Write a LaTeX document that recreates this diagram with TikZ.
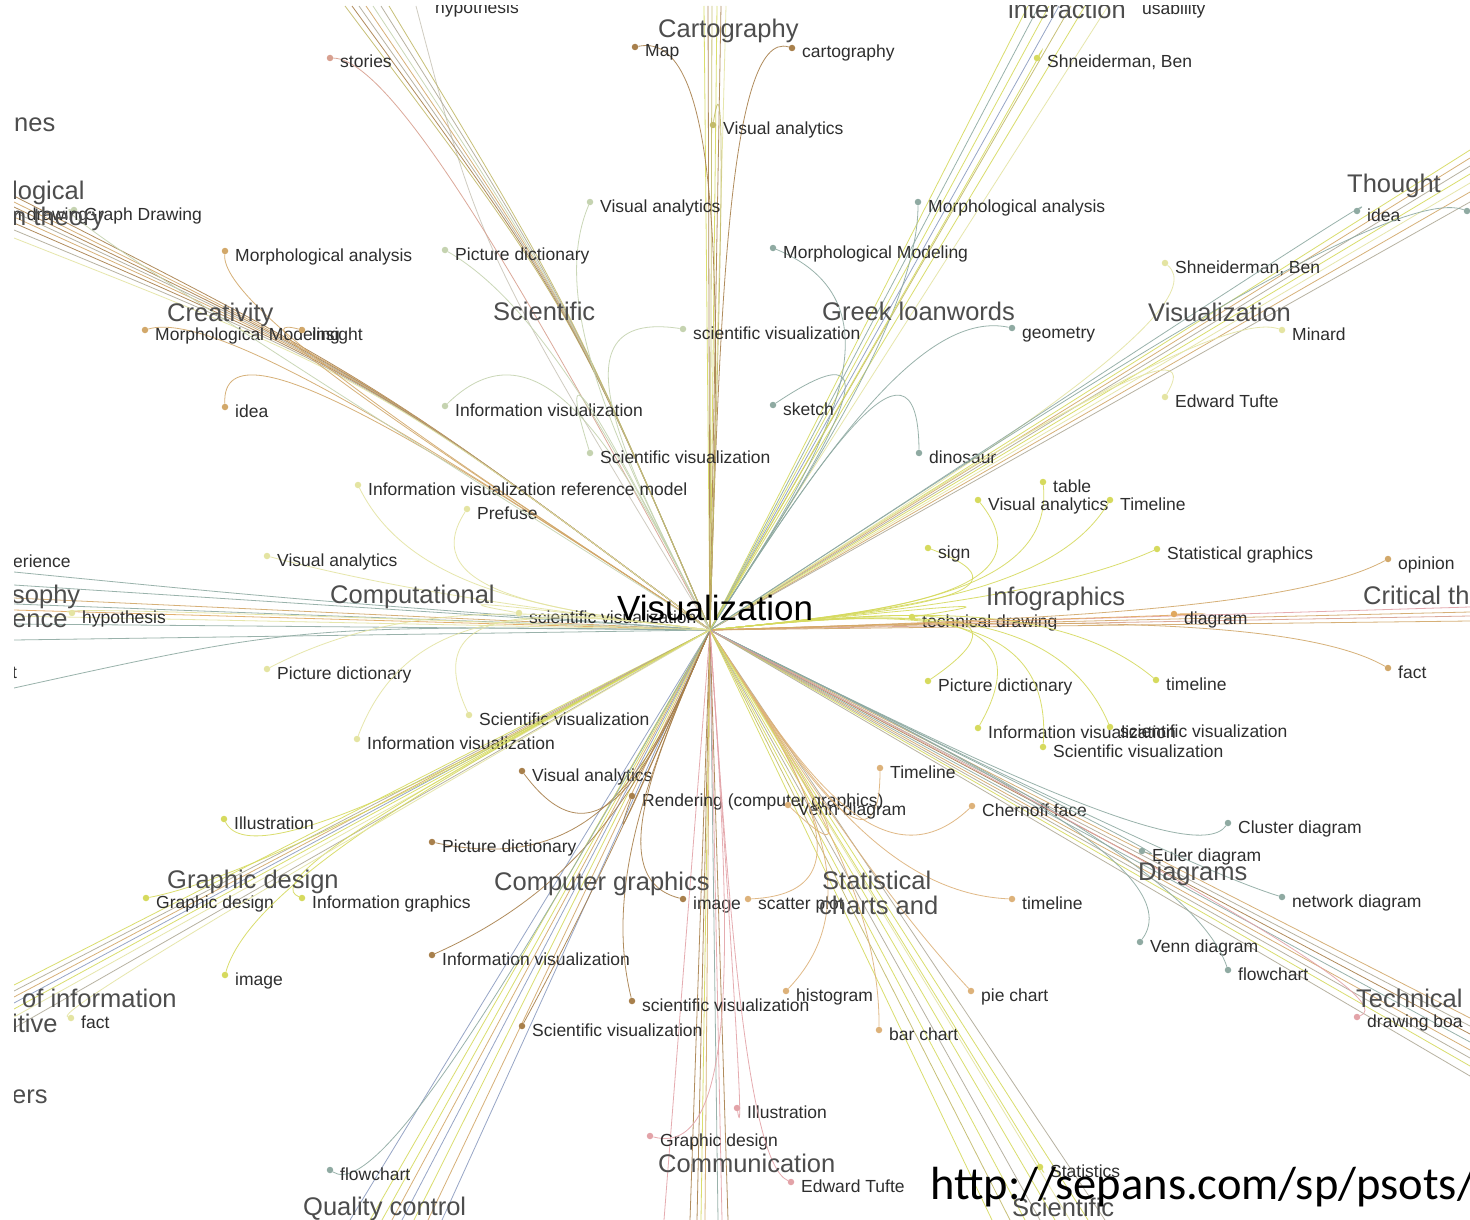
\documentclass[tikz,border=0pt]{standalone}
\usepackage{fontspec}
\setmainfont{Liberation Sans}
\newfontfamily\urlfont{Carlito}
\usetikzlibrary{calc}

\definecolor{cBrown}{HTML}{A8804C}
\definecolor{cTan}{HTML}{D2A86A}
\definecolor{cStat}{HTML}{DDB27A}
\definecolor{cSage}{HTML}{C5D3B0}
\definecolor{cTeal}{HTML}{8FAAA2}
\definecolor{cPaleY}{HTML}{E4E4A2}
\definecolor{cYel}{HTML}{D6DA5E}
\definecolor{cPink}{HTML}{E3A3A8}
\definecolor{cOlive}{HTML}{C2BA6A}
\definecolor{cSalmon}{HTML}{D8A090}
\definecolor{cGrey}{HTML}{B0AA98}
\definecolor{cBlue}{HTML}{8C9CC0}
\definecolor{cOrange}{HTML}{E0A860}
\definecolor{hubgrey}{HTML}{4D4D4D}
\definecolor{leafgrey}{HTML}{2E2E2E}

\tikzset{
  spoke/.style={line width=0.8pt, opacity=0.9},
  edge/.style={line width=0.8pt, opacity=0.9},
  dot/.style={circle, inner sep=0pt, minimum size=6.5pt, draw=none},
  leaftext/.style={font=\fontsize{17.5}{20}\selectfont, text=leafgrey, inner sep=0pt, anchor=base west},
  hub/.style={font=\fontsize{25.5}{30}\selectfont, text=hubgrey, inner sep=0pt, anchor=base west},
}

% #1 name, #2 x, #3 y, #4 colour, #5 cluster anchor, #6 label
\newcommand\leaf[6]{%
  \node[dot, fill=#4] (#1) at (#2,#3) {};
  \draw[edge, draw=#4] (ctr) .. controls ($(ctr)!0.5!(#5)$) and (#5.center) .. (#1);
  \node[leaftext] (#1-t) at ($(#1)+(10,10)$) {#6};
}

\begin{document}
\begin{tikzpicture}[x=1pt,y=-1pt]
\fill[white] (0,0) rectangle (1470,1220);
\useasboundingbox (0,0) rectangle (1470,1220);

\coordinate (ctr) at (710,630);

% cluster anchors
\coordinate (aCart) at (728,28);
\coordinate (aSci) at (545,308);
\coordinate (aGreek) at (918,308);
\coordinate (aVisR) at (1218,308);
\coordinate (aCreat) at (220,308);
\coordinate (aComp) at (412,594);
\coordinate (aInfo) at (1054,595);
\coordinate (aCrit) at (1290,612);
\coordinate (aCG) at (602,879);
\coordinate (aGD) at (253,878);
\coordinate (aStat) at (880,893);
\coordinate (aDiag) at (1194,870);
\coordinate (aTech) at (1410,997);
\coordinate (aComm) at (746,1162);
\coordinate (aQC) at (383,1205);
\coordinate (aThought) at (1392,183);
\coordinate (aInter) at (1068,8);
\coordinate (aTL) at (400,60);
\coordinate (aPhilo) at (40,606);
\coordinate (aCogn) at (50,1012);
\coordinate (aLeft) at (40,205);
\coordinate (aStSci) at (1062,1200);

\begin{scope}
\clip (14,6) rectangle (1470,1220);

% straight spokes to clusters beyond the frame
\foreach \x/\y/\c [count=\i] in {
  704/6/cYel, 708/6/cBrown, 712/6/cOlive, 717/6/cYel, 721/6/cBrown, 726/6/cPaleY,
  14/585/cTeal, 14/598/cTan, 14/604/cTeal, 14/610/cOrange, 14/616/cPaleY, 14/624/cTeal, 14/640/cTeal,
  14/985/cYel, 14/991/cGrey, 14/997/cTan, 14/1003/cBlue, 14/1009/cYel, 14/1017/cPaleY, 14/1028/cGrey,
  350/1220/cBlue, 370/1220/cYel, 382/1220/cYel, 392/1220/cTan, 402/1220/cBlue, 414/1220/cYel, 428/1220/cTan, 442/1220/cBlue,
  664/1220/cPink, 690/1220/cBrown, 697/1220/cBrown, 701/1220/cYel, 705/1220/cTan, 718/1220/cTeal, 722/1220/cPink, 728/1220/cBrown,
  992/1220/cYel, 1010/1220/cOlive, 1025/1220/cYel, 1040/1220/cGrey, 1055/1220/cYel, 1070/1220/cPaleY, 1088/1220/cYel, 1105/1220/cGrey,
  1470/1018/cTan, 1470/1026/cGrey, 1470/1034/cBrown, 1470/1042/cTeal, 1470/1050/cTan, 1470/1058/cGrey, 1470/1066/cYel, 1470/1076/cGrey,
  1470/607/cPink, 1470/612/cTan, 1470/616/cSalmon, 1470/621/cTan,
  1470/150/cYel, 1470/158/cTan, 1470/166/cGrey, 1470/174/cYel, 1470/183/cPaleY, 1470/192/cTan, 1470/202/cGrey,
  1028/6/cYel, 1039/6/cTeal, 1049/6/cYel, 1059/6/cBlue, 1071/6/cOlive, 1085/6/cYel, 1108/6/cPaleY}{
  \coordinate (sp\i) at (\x,\y);
  \draw[spoke,\c] (ctr) -- (sp\i);
}

% bowed bundle to the upper left
\foreach \y/\c [count=\i] in {196/cBrown, 202/cTan, 207/cBrown, 212/cGrey, 217/cTan, 223/cBrown, 230/cGrey, 238/cPaleY}{
  \coordinate (lw\i) at (14,\y);
  \draw[spoke,\c] (ctr) .. controls (375,380) .. (lw\i);
}
% bowed bundle to the top left
\foreach \x/\c [count=\i] in {345/cOlive, 352/cBrown, 359/cGrey, 366/cTan, 373/cSage, 381/cGrey, 389/cOlive}{
  \coordinate (tw\i) at (\x,6);
  \draw[spoke,\c] (ctr) .. controls (570,305) .. (tw\i);
}
% single curved strands
\coordinate (hypo) at (416,6);
\draw[spoke,cGrey,opacity=0.6] (ctr) .. controls (480,250) .. (hypo);
\coordinate (eri) at (14,572);
\draw[spoke,cTeal] (ctr) .. controls (300,600) .. (eri);
\coordinate (tee) at (14,688);
\draw[spoke,cTeal] (ctr) .. controls (300,625) .. (tee);

% Cartography
\leaf{map}{635}{47}{cBrown}{aCart}{Map}
\leaf{carto}{792}{48}{cBrown}{aCart}{cartography}
\leaf{cva}{713}{125}{cOlive}{aCart}{Visual analytics}
% top left
\leaf{stories}{330}{58}{cSalmon}{aTL}{stories}
% Scientific
\leaf{sva}{590}{202}{cSage}{aSci}{Visual analytics}
\leaf{spd}{445}{250}{cSage}{aSci}{Picture dictionary}
\leaf{ssv}{683}{329}{cSage}{aSci}{scientific visualization}
\leaf{siv}{445}{406}{cSage}{aSci}{Information visualization}
\leaf{sSv}{590}{453}{cSage}{aSci}{Scientific visualization}
% Greek loanwords
\leaf{gma}{918}{202}{cTeal}{aGreek}{Morphological analysis}
\leaf{gmm}{773}{248}{cTeal}{aGreek}{Morphological Modeling}
\leaf{ggeo}{1012}{328}{cTeal}{aGreek}{geometry}
\leaf{gsk}{773}{405}{cTeal}{aGreek}{sketch}
\leaf{gdino}{919}{453}{cTeal}{aGreek}{dinosaur}
% Visualization
\leaf{vshn}{1165}{263}{cPaleY}{aVisR}{Shneiderman, Ben}
\leaf{vmin}{1282}{330}{cPaleY}{aVisR}{Minard}
\leaf{vtuf}{1165}{397}{cPaleY}{aVisR}{Edward Tufte}
% Creativity
\leaf{rma}{225}{251}{cTan}{aCreat}{Morphological analysis}
\leaf{rmm}{145}{330}{cTan}{aCreat}{Morphological Modeling}
\leaf{rins}{302}{330}{cTan}{aCreat}{insight}
\leaf{ridea}{225}{407}{cTan}{aCreat}{idea}
% Computational
\leaf{pirm}{358}{485}{cPaleY}{aComp}{Information visualization reference model}
\leaf{ppre}{467}{509}{cPaleY}{aComp}{Prefuse}
\leaf{pva}{267}{556}{cPaleY}{aComp}{Visual analytics}
\leaf{psv}{519}{613}{cPaleY}{aComp}{scientific visualization}
\leaf{ppd}{267}{669}{cPaleY}{aComp}{Picture dictionary}
\leaf{pSv}{469}{715}{cPaleY}{aComp}{Scientific visualization}
\leaf{piv}{357}{739}{cPaleY}{aComp}{Information visualization}
% Infographics
\leaf{itab}{1043}{482}{cYel}{aInfo}{table}
\leaf{iva}{978}{500}{cYel}{aInfo}{Visual analytics}
\leaf{itl}{1110}{500}{cYel}{aInfo}{Timeline}
\leaf{isign}{928}{548}{cYel}{aInfo}{sign}
\leaf{isg}{1157}{549}{cYel}{aInfo}{Statistical graphics}
\leaf{itd}{912}{617}{cYel}{aInfo}{technical drawing}
\leaf{ipd}{928}{681}{cYel}{aInfo}{Picture dictionary}
\leaf{itl2}{1156}{680}{cYel}{aInfo}{timeline}
\leaf{iiv}{978}{728}{cYel}{aInfo}{Information visualization}
\leaf{isv}{1110}{727}{cYel}{aInfo}{scientific visualization}
\leaf{iSv}{1043}{747}{cYel}{aInfo}{Scientific visualization}
% Critical thinking
\leaf{kop}{1388}{559}{cTan}{aCrit}{opinion}
\leaf{kdia}{1174}{614}{cOrange}{aCrit}{diagram}
\leaf{kfact}{1388}{668}{cTan}{aCrit}{fact}
% Computer graphics
\leaf{gva}{522}{771}{cBrown}{aCG}{Visual analytics}
\leaf{gren}{632}{796}{cBrown}{aCG}{Rendering (computer graphics)}
\leaf{gpd}{432}{842}{cBrown}{aCG}{Picture dictionary}
\leaf{gimg}{683}{899}{cBrown}{aCG}{image}
\leaf{giv}{432}{955}{cBrown}{aCG}{Information visualization}
\leaf{gsv}{632}{1001}{cBrown}{aCG}{scientific visualization}
\leaf{gSv}{522}{1026}{cBrown}{aCG}{Scientific visualization}
% Graphic design
\leaf{dill}{224}{819}{cYel}{aGD}{Illustration}
\leaf{dgd}{146}{898}{cYel}{aGD}{Graphic design}
\leaf{dig}{302}{898}{cYel}{aGD}{Information graphics}
\leaf{dimg}{225}{975}{cYel}{aGD}{image}
% Statistical charts and graphs
\leaf{tTl}{880}{768}{cStat}{aStat}{Timeline}
\leaf{tven}{788}{805}{cStat}{aStat}{Venn diagram}
\leaf{tche}{972}{806}{cStat}{aStat}{Chernoff face}
\leaf{tsca}{748}{899}{cStat}{aStat}{scatter plot}
\leaf{this}{786}{991}{cStat}{aStat}{histogram}
\leaf{tbar}{879}{1030}{cStat}{aStat}{bar chart}
\leaf{tpie}{971}{991}{cStat}{aStat}{pie chart}
\leaf{ttl}{1012}{899}{cStat}{aStat}{timeline}
% Diagrams
\leaf{xclu}{1228}{823}{cTeal}{aDiag}{Cluster diagram}
\leaf{xeul}{1142}{851}{cTeal}{aDiag}{Euler diagram}
\leaf{xnet}{1282}{897}{cTeal}{aDiag}{network diagram}
\leaf{xven}{1140}{942}{cTeal}{aDiag}{Venn diagram}
\leaf{xflo}{1228}{970}{cTeal}{aDiag}{flowchart}
% Technical
\leaf{tdb}{1357}{1017}{cPink}{aTech}{drawing boa}
% Communication
\leaf{mill}{737}{1108}{cPink}{aComm}{Illustration}
\leaf{mgd}{650}{1136}{cPink}{aComm}{Graphic design}
\leaf{mtuf}{791}{1182}{cPink}{aComm}{Edward Tufte}
% Quality control
\leaf{qflo}{330}{1170}{cTeal}{aQC}{flowchart}
% Thought
\leaf{hidea}{1357}{211}{cTeal}{aThought}{idea}
\leaf{hedge}{1467}{211}{cTeal}{aThought}{}
% Interaction
\leaf{ishn}{1037}{58}{cYel}{aInter}{Shneiderman, Ben}
% edge clusters
\leaf{phyp}{72}{613}{cPaleY}{aPhilo}{hypothesis}
\leaf{ofact}{71}{1018}{cPaleY}{aCogn}{fact}
\leaf{lgd}{74}{210}{cSage}{aLeft}{Graph Drawing}
\leaf{sstat}{1040}{1167}{cYel}{aStSci}{Statistics}

% labels without a dot in the frame
\node[leaftext] (thypo) at (435,14) {hypothesis};
\node[leaftext] (tusab) at (1142,15) {usability};
\node[leaftext] (teri) at (13,567) {erience};
\node[leaftext] (tt) at (12,678) {t};
\node[leaftext] (tndraw) at (12,220) {n drawing};

% cluster titles
\node[hub] (hcart) at (658,38) {Cartography};
\node[hub] (hsci) at (493,320) {Scientific};
\node[hub] (hgreek) at (822,320) {Greek loanwords};
\node[hub] (hvisr) at (1148,321) {Visualization};
\node[hub] (hcreat) at (167,321) {Creativity};
\node[hub] (hthought) at (1347,193) {Thought};
\node[hub] (hinter) at (1008,19) {interaction};
\node[hub] (hcomp) at (330,603) {Computational};
\node[hub] (hinfo) at (986,605) {Infographics};
\node[hub] (hcrit) at (1363,604) {Critical th};
\node[hub] (hgd) at (167,888) {Graphic design};
\node[hub] (hcg) at (494,890) {Computer graphics};
\node[hub] (hstat) at (822,889) {Statistical};
\node[hub] (hstat2) at (819,914) {charts and};
\node[hub] (hdiag) at (1138,880) {Diagrams};
\node[hub] (htech) at (1356,1007) {Technical};
\node[hub] (hcomm) at (658,1172) {Communication};
\node[hub] (hqc) at (303,1215) {Quality control};
\node[hub] (hscib) at (1012,1216) {Scientific};
\node[hub] (hofinf) at (22,1007) {of information};
\node[hub] (hitive) at (12,1032) {itive};
\node[hub] (hers) at (12,1103) {ers};
\node[hub] (hsophy) at (12,603) {sophy};
\node[hub] (hence) at (12,627) {ence};
\node[hub] (hnes) at (14,132) {nes};
\node[hub] (hlogical) at (12,200) {logical};
\node[hub] (htheory) at (12,225) {n theory};

% central topic
\node[font=\fontsize{35}{40}\selectfont, text=black, inner sep=0pt, anchor=base west] (vis) at (617,620) {Visualization};
\end{scope}

\node[font=\urlfont\fontsize{46.5}{50}\selectfont, text=black, inner sep=0pt, anchor=base west] (url) at (930,1199) {http://sepans.com/sp/psots/};
\end{tikzpicture}
\end{document}
